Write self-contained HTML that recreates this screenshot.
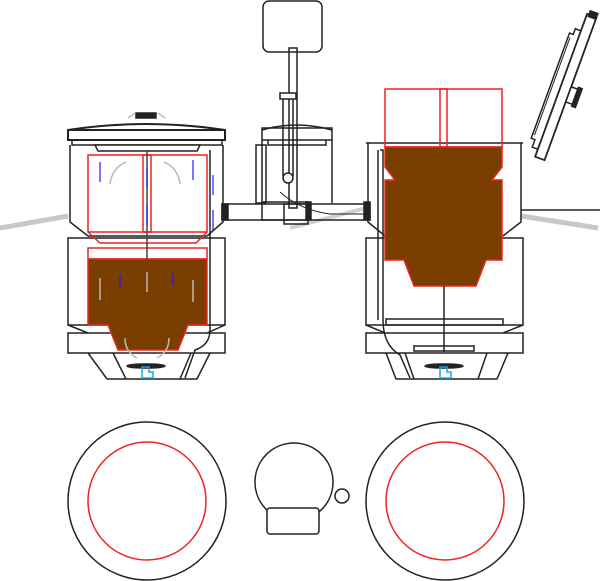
<!DOCTYPE html>
<html><head><meta charset="utf-8"><style>html,body{margin:0;padding:0;background:#fff}svg{display:block}</style></head><body>
<svg width="601" height="581" viewBox="0 0 601 581" xmlns="http://www.w3.org/2000/svg" fill="none" stroke="#222" stroke-width="1.5">
<!-- gray lines -->
<path d="M0,228 L68,216" stroke="#c8c8c8" stroke-width="5"/>
<path d="M521,216 L598,228" stroke="#c8c8c8" stroke-width="5"/>
<path d="M290,228 L366,208" stroke="#d0d0d0" stroke-width="4"/>
<path d="M521,210 L600,210"/>

<!-- LEFT MACHINE -->
<path d="M68,130 Q146,118 225,130" stroke-width="2"/>
<rect x="136" y="113" width="20" height="5" fill="#222"/>
<path d="M128,118 L135,113 M165,118 L158,113" stroke="#bbb"/>
<rect x="68" y="130" width="157" height="10" stroke-width="2"/>
<rect x="72" y="140" width="150" height="5"/>
<path d="M95,145 L200,145 L197,151 L98,151 Z" fill="#fff"/>
<path d="M70,145 L70,222 L88,236 M223,145 L223,222 L207,236"/>
<path d="M88,236 L207,236"/>
<rect x="68" y="238" width="157" height="87"/>
<path d="M68,325 L88,333 M225,325 L207,333"/>
<rect x="68" y="333" width="157" height="20"/>
<path d="M88,353 L107,379 L197,379 L210,353 M113,353 L126,379 M191,353 L180,379"/>
<ellipse cx="146" cy="366" rx="19" ry="2" fill="#222"/>
<path d="M142,367 h7 v5 h4 v6 h-11 Z" stroke="#1aa7e0"/>
<!-- red chambers -->
<rect x="88" y="155" width="119" height="77" stroke="#e22" stroke-width="1.5"/>
<rect x="143" y="155" width="8" height="77" stroke="#e22"/>
<path d="M88,232 L100,243 L196,243 L207,232" stroke="#e22"/>
<rect x="88" y="248" width="119" height="11" stroke="#e22"/>
<path d="M88,259 H207 V325 H188 L178,350 H118 L108,325 H88 Z" fill="#7a3f00" stroke="#e22"/>
<line x1="147" y1="150" x2="147" y2="260" stroke="#444"/>
<!-- arrows -->
<g stroke="#1a1aff" stroke-width="1.2">
<path d="M100,162 V182"/><path d="M193,160 V180"/><path d="M147,168 V188"/><path d="M147,205 V225"/>
<path d="M213,195 V175"/><path d="M213,230 V210"/><path d="M120,275 V287"/><path d="M173,273 V285"/>
</g>
<g stroke="#bbb" stroke-width="1.5">
<path d="M110,184 Q112,168 126,162"/><path d="M180,184 Q178,168 164,162"/>
<path d="M100,300 V278"/><path d="M147,292 V272"/><path d="M193,302 V280"/>
<path d="M137,358 Q125,352 125,338"/><path d="M157,358 Q169,352 169,338"/>
</g>
<path d="M210,150 V330 Q210,345 195,350 L185,378" stroke-width="1.5"/>
<rect x="222" y="204" width="6" height="16" fill="#222"/>

<!-- MIDDLE -->
<rect x="263" y="1" width="59" height="51" rx="6"/>
<rect x="289" y="48" width="8" height="160"/>
<path d="M262,130 Q296,120 332,130"/>
<rect x="262" y="128" width="70" height="12"/>
<path d="M268,140 V145 H326 V140"/>
<rect x="256" y="145" width="10" height="58"/>
<path d="M262,140 V203 M332,140 V203"/>
<rect x="283" y="95" width="10" height="85" rx="5"/>
<rect x="280" y="93" width="16" height="6" fill="#fff"/>
<circle cx="288" cy="178" r="5" fill="#fff"/>
<rect x="222" y="204" width="148" height="16"/>
<rect x="262" y="202" width="46" height="18"/>
<rect x="284" y="204" width="24" height="20"/>
<rect x="306" y="202" width="5" height="18" fill="#222"/>
<rect x="364" y="202" width="6" height="18" fill="#222"/>
<path d="M280,192 Q300,210 330,214 L366,214" stroke-width="1"/>

<!-- RIGHT MACHINE -->
<path d="M366,143 H523 M368,143 V222 L385,236 M521,143 V222 L503,236 M385,236 H503"/>
<rect x="366" y="238" width="157" height="87"/>
<path d="M366,325 L385,333 M523,325 L503,333"/>
<rect x="386" y="319" width="117" height="6"/>
<rect x="366" y="333" width="157" height="20"/>
<rect x="414" y="346" width="60" height="5"/>
<path d="M386,353 L396,379 L497,379 L508,353 M405,353 L414,379 M487,353 L478,379"/>
<ellipse cx="444" cy="366" rx="19" ry="2" fill="#222"/>
<path d="M440,367 h7 v5 h4 v6 h-11 Z" stroke="#1aa7e0"/>
<rect x="385" y="89" width="117" height="58" stroke="#e22"/>
<rect x="440" y="89" width="7" height="58" stroke="#e22"/>
<path d="M385,147 H502 V167 L492,180 H502 V260 H486 L476,286 H414 L404,260 H385 V180 H395 L385,167 Z" fill="#7a3f00" stroke="#e22"/>
<line x1="444" y1="286" x2="444" y2="352"/>
<path d="M380,150 H383 V260 V320 Q383,345 400,355 L410,378" />
<path d="M378,150 V320"/>

<!-- tilted lid -->
<g transform="translate(563,86) rotate(20)">
<rect x="-2" y="-76" width="10" height="152" fill="#fff" stroke-width="1.8"/>
<path d="M-2,-58 H-8 V-52 H-12 V60 H-8 V68 H-2" stroke-width="1.5"/>
<path d="M-10,-48 V56" stroke-width="1"/>
<rect x="8" y="-2" width="7" height="16" fill="#fff"/>
<rect x="15" y="-4" width="4" height="20" fill="#222"/>
<rect x="0" y="-80" width="8" height="6" fill="#222"/>
</g>

<!-- BOTTOM CIRCLES -->
<circle cx="147" cy="501" r="79"/>
<circle cx="147" cy="501" r="59" stroke="#e22"/>
<circle cx="294" cy="482" r="39"/>
<rect x="267" y="508" width="52" height="26" rx="3" fill="#fff"/>
<circle cx="342" cy="496" r="7"/>
<circle cx="445" cy="501" r="79"/>
<circle cx="445" cy="501" r="59" stroke="#e22"/>
</svg>
</body></html>
